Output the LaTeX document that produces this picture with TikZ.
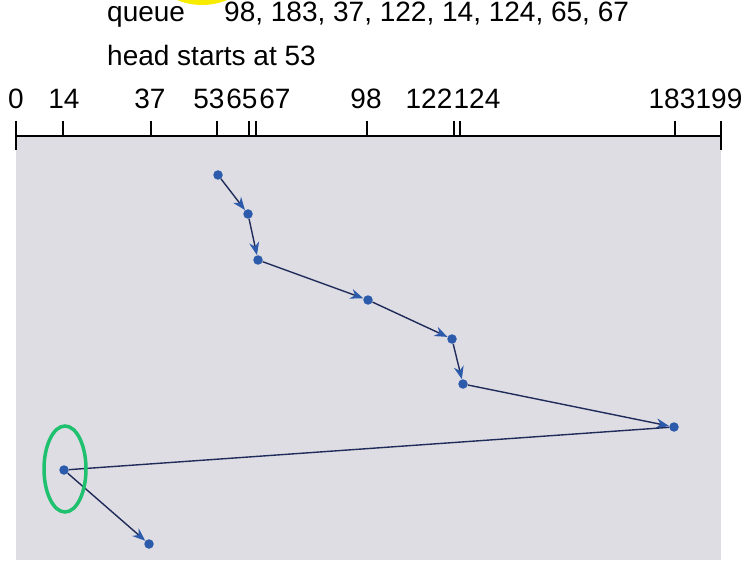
\documentclass[tikz,border=0pt]{standalone}
\usepackage{fontspec}
\setmainfont{Liberation Sans}
\usetikzlibrary{arrows.meta}
\definecolor{dotblue}{HTML}{2B5BAA}
\definecolor{linenavy}{HTML}{1F2C5A}
\definecolor{bggray}{HTML}{DFDDE4}
\definecolor{ringgreen}{HTML}{1FC06E}
\definecolor{blobyellow}{HTML}{F7EC00}
\begin{document}
\begin{tikzpicture}[x=1pt,y=-1pt,
  txt/.style={anchor=base west,inner sep=0pt,font=\fontsize{28}{32}\selectfont},
  lbl/.style={anchor=base,inner sep=0pt,font=\fontsize{28}{32}\selectfont},
  dot/.style={circle,fill=dotblue,inner sep=0pt,minimum size=9.5pt},
  conn/.style={draw=linenavy,line width=1.4pt,-{Stealth[length=13pt,width=10pt,color=dotblue]}},
  plain/.style={draw=linenavy,line width=1.4pt},
  tick/.style={line width=1.2pt}]
\useasboundingbox (0,0) rectangle (749,585);
% partial yellow blob at the top
\fill[blobyellow] (202,-60) circle (65);
% texts
\node[txt] (q) at (107,22) {queue};
\node[txt] (qv) at (224,22) {98, 183, 37, 122, 14, 124, 65, 67};
\node[txt] (h) at (107,66) {head starts at 53};
% background
\fill[bggray] (16,136) rectangle (721,560);
% axis
\draw[line width=1.5pt] (16,136) -- (721,136);
\draw[line width=1.5pt] (16,121) -- (16,150);
\draw[line width=1.5pt] (721,121) -- (721,150);
\foreach \x in {63,151,217,249,256,367,454,460,675}
  \draw[tick] (\x,121) -- (\x,136);
% axis labels
\node[lbl] (l0) at (16,109) {0};
\node[lbl] (l14) at (64,109) {14};
\node[lbl] (l37) at (150,109) {37};
\node[lbl] (l53) at (209,109) {53};
\node[lbl] (l65) at (242,109) {65};
\node[lbl] (l67) at (275,109) {67};
\node[lbl] (l98) at (366,109) {98};
\node[lbl] (l122) at (429,109) {122};
\node[lbl] (l124) at (477,109) {124};
\node[lbl] (l183) at (672,109) {183};
\node[lbl] (l199) at (719,109) {199};
% points
\node[dot] (p53) at (218,175) {};
\node[dot] (p65) at (248,214) {};
\node[dot] (p67) at (258,260) {};
\node[dot] (p98) at (368,300) {};
\node[dot] (p122) at (452,339) {};
\node[dot] (p124) at (463,384) {};
\node[dot] (p183) at (674,427) {};
\node[dot] (p14) at (64,470) {};
\node[dot] (p37) at (149,544) {};
% connectors
\draw[conn] (p53) -- (p65);
\draw[conn] (p65) -- (p67);
\draw[conn] (p67) -- (p98);
\draw[conn] (p98) -- (p122);
\draw[conn] (p122) -- (p124);
\draw[conn] (p124) -- (p183);
\draw[plain] (p183) -- (p14);
\draw[conn] (p14) -- (p37);
% green ring
\draw[ringgreen,line width=3.5pt] (65,469) ellipse (21 and 43);
\end{tikzpicture}
\end{document}
